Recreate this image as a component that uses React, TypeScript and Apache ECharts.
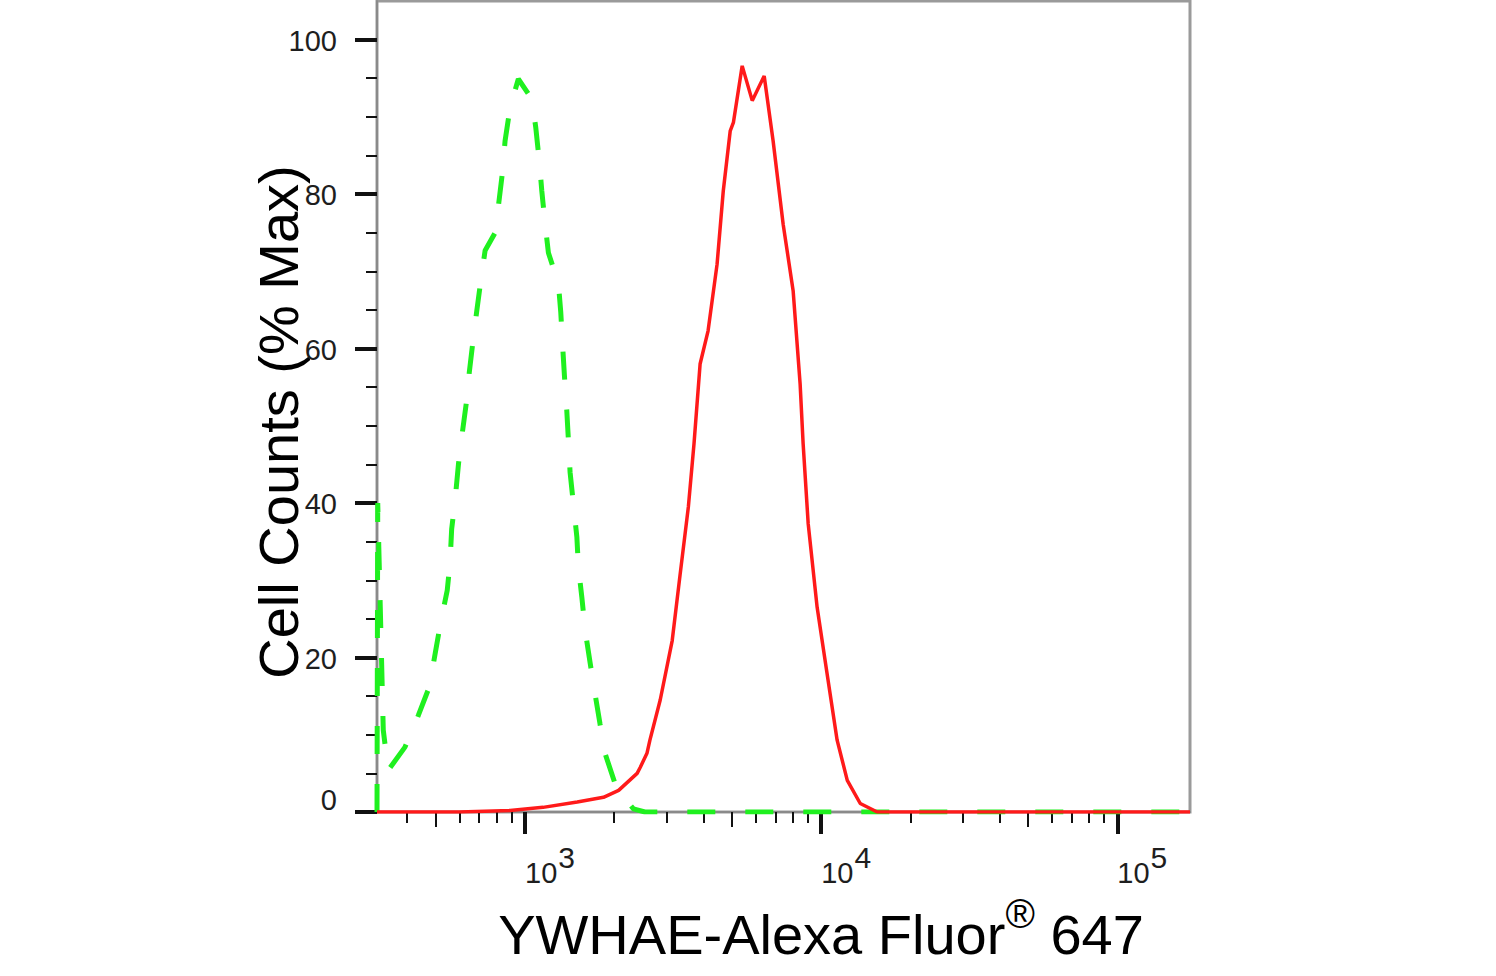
import React, { useEffect, useRef } from "react";
import * as echarts from "echarts";

// ---- axis extents ----
const X_MIN = 316.2;
const X_MAX = 176000;
const Y_MIN = 0;
const Y_MAX = 105;

// ---- tick values ----
const xMajorTicks = [1000, 10000, 100000];
const xMidTicks = [500, 5000, 50000];
const xMinorTicks = [
  400, 600, 700, 800, 900,
  2000, 3000, 4000, 6000, 7000, 8000, 9000,
  20000, 30000, 40000, 60000, 70000, 80000, 90000,
];
const yMajorTicks = [0, 20, 40, 60, 80, 100];
const yMinorTicks = [5, 10, 15, 25, 30, 35, 45, 50, 55, 65, 70, 75, 85, 90, 95];

// ---- titles ----
const yTitle = "Cell Counts (% Max)";
const xTitleMain = "YWHAE-Alexa Fluor";
const xTitleMark = "®";
const xTitleTail = " 647";

// ---- series: [fluorescence intensity, % of max] ----
const isotypeControl: [number, number][] = [
  [316.2, 0], [318, 40], [332, 10.6], [345, 5.4], [393, 8.4], [436, 12.5],
  [475, 16.2], [497, 20.5], [519, 24.6], [546, 28.7], [558, 32.3], [565, 36.6],
  [580, 40.3], [596, 45.1], [611, 48.5], [635, 53.3], [648, 56.9], [669, 61.4],
  [687, 64.9], [714, 69.7], [733, 72.7], [792, 75.0], [813, 78.5], [841, 83.2],
  [856, 86.9], [890, 91.2], [949, 94.9], [1054, 92.3], [1087, 88.6], [1118, 84.1],
  [1139, 80.4], [1169, 76.1], [1199, 72.4], [1296, 68.4], [1320, 64.7], [1340, 60.2],
  [1358, 56.5], [1383, 52.0], [1400, 48.3], [1419, 44.0], [1456, 39.9], [1496, 35.6],
  [1514, 31.7], [1555, 27.8], [1596, 23.5], [1660, 19.2], [1723, 15.3], [1791, 11.4],
  [1862, 7.6], [2040, 3.0], [2323, 0.4], [2540, 0], [176000, 0],
];

const ywhaeStained: [number, number][] = [
  [316.2, 0], [600, 0], [890, 0.2], [1150, 0.6], [1500, 1.3], [1840, 1.9],
  [2070, 2.8], [2390, 5.0], [2450, 5.8], [2580, 7.6], [2640, 9.3], [2860, 14.5],
  [3140, 22.2], [3340, 30.8], [3560, 39.5], [3720, 47.7], [3900, 58.0], [4150, 62.3],
  [4450, 70.9], [4670, 80.4], [4930, 88.2], [5055, 89.3], [5410, 96.6], [5850, 92.1],
  [6420, 95.3], [6880, 86.9], [7440, 76.1], [8040, 67.5], [8490, 55.4], [8690, 47.7],
  [9040, 37.3], [9690, 26.5], [10470, 17.9], [11320, 9.3], [12250, 4.1], [13550, 1.1],
  [15460, 0], [176000, 0],
];

const FONT = "'Liberation Sans', Arial, Helvetica, sans-serif";

export default function App() {
  const ref = useRef<HTMLDivElement>(null);

  useEffect(() => {
    if (!ref.current) return;
    const chart = echarts.init(ref.current, undefined, { renderer: "svg" });

    const baseX: any = {
      type: "log",
      logBase: 10,
      min: X_MIN,
      max: X_MAX,
      gridIndex: 0,
      position: "bottom",
      offset: 0,
      splitLine: { show: false },
      minorTick: { show: false },
      minorSplitLine: { show: false },
      axisLine: { show: false },
      axisLabel: { show: false },
      axisTick: { show: false },
    };

    const baseY: any = {
      type: "value",
      min: Y_MIN,
      max: Y_MAX,
      gridIndex: 0,
      position: "left",
      offset: 0,
      splitLine: { show: false },
      axisLine: { show: false },
      axisLabel: { show: false },
      axisTick: { show: false },
    };

    const labelColor = "#1e1e1e";

    const option: any = {
      animation: false,
      backgroundColor: "#ffffff",
      grid: {
        left: 377,
        right: 306,
        top: 1,
        bottom: 164,
        show: true,
        borderColor: "#9a9a9a",
        borderWidth: 3,
        backgroundColor: "transparent",
      },
      xAxis: [
        {
          ...baseX,
          axisLine: { show: true, onZero: false, lineStyle: { color: "#8a8a8a", width: 2 } },
          axisTick: {
            show: true,
            customValues: xMajorTicks,
            length: 22,
            lineStyle: { color: "#111111", width: 4 },
          },
          axisLabel: {
            show: true,
            customValues: xMajorTicks,
            align: "left",
            margin: 30,
            fontSize: 29,
            fontFamily: FONT,
            color: labelColor,
            formatter: (v: number) => "{b|10}{e|" + Math.round(Math.log10(v)) + "}",
            rich: {
              b: { fontSize: 29, fontFamily: FONT, color: labelColor },
              e: { fontSize: 30, fontFamily: FONT, color: labelColor, padding: [0, 0, 32, 1] },
            },
          },
        },
        {
          ...baseX,
          axisTick: {
            show: true,
            customValues: xMidTicks,
            length: 15,
            lineStyle: { color: "#111111", width: 2 },
          },
        },
        {
          ...baseX,
          axisTick: {
            show: true,
            customValues: xMinorTicks,
            length: 11,
            lineStyle: { color: "#111111", width: 2 },
          },
        },
      ],
      yAxis: [
        {
          ...baseY,
          axisLine: { show: true, onZero: false, lineStyle: { color: "#8a8a8a", width: 2 } },
          axisTick: {
            show: true,
            customValues: yMajorTicks,
            length: 22,
            lineStyle: { color: "#111111", width: 4 },
          },
          axisLabel: {
            show: true,
            customValues: yMajorTicks,
            margin: 40,
            fontSize: 29,
            fontFamily: FONT,
            color: labelColor,
            formatter: (v: number) => (v === 0 ? "{z|0}" : "{n|" + v + "}"),
            rich: {
              z: { fontSize: 29, fontFamily: FONT, color: labelColor, padding: [0, 0, 24, 0] },
              n: { fontSize: 29, fontFamily: FONT, color: labelColor, padding: [2, 0, 0, 0] },
            },
          },
        },
        {
          ...baseY,
          axisTick: {
            show: true,
            customValues: yMinorTicks,
            length: 11,
            lineStyle: { color: "#111111", width: 2 },
          },
        },
      ],
      series: [
        {
          name: "Isotype control",
          type: "line",
          xAxisIndex: 0,
          yAxisIndex: 0,
          data: isotypeControl,
          symbol: "none",
          showSymbol: false,
          lineStyle: { color: "#1ff01f", width: 5, type: [28, 30] },
          z: 3,
        },
        {
          name: "YWHAE",
          type: "line",
          xAxisIndex: 0,
          yAxisIndex: 0,
          data: ywhaeStained,
          symbol: "none",
          showSymbol: false,
          lineStyle: { color: "#ff1a1a", width: 3.5 },
          z: 4,
        },
      ],
      graphic: [
        {
          type: "text",
          x: 278,
          y: 422,
          rotation: Math.PI / 2,
          style: {
            text: yTitle,
            fontSize: 56,
            fontFamily: FONT,
            fill: "#000000",
            align: "center",
            verticalAlign: "middle",
          },
        },
        {
          type: "text",
          x: 821,
          y: 934,
          style: {
            text: "{a|" + xTitleMain + "}{r|" + xTitleMark + "}{a|" + xTitleTail + "}",
            align: "center",
            verticalAlign: "middle",
            fill: "#000000",
            fontSize: 56,
            fontFamily: FONT,
            rich: {
              a: { fontSize: 56, fontFamily: FONT, fill: "#000000" },
              r: { fontSize: 40, fontFamily: FONT, fill: "#000000", padding: [0, 0, 40, 0] },
            },
          },
        },
      ],
    };

    chart.setOption(option);
    return () => chart.dispose();
  }, []);

  return (
    <div
      ref={ref}
      style={{ position: "fixed", left: 0, top: 0, width: 1496, height: 976, background: "#fff" }}
    />
  );
}
